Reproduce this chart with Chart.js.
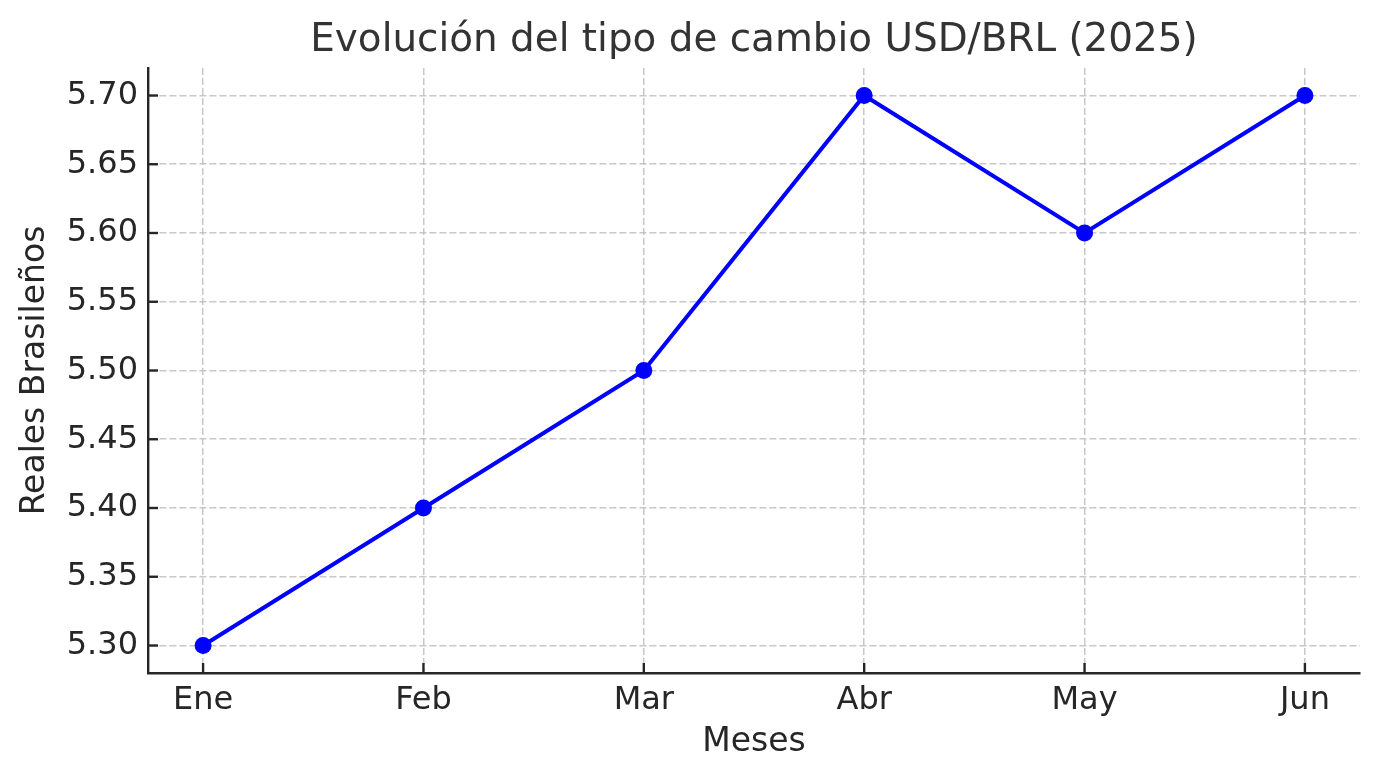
<!DOCTYPE html>
<html>
<head>
<meta charset="utf-8">
<script src="https://cdn.jsdelivr.net/npm/chart.js@4"></script>
<style>
html,body{margin:0;padding:0;background:#fff;}
#wrap{width:1380px;height:780px;position:relative;}
</style>
</head>
<body>
<div id="wrap"><canvas id="c"></canvas></div>
<script>
const months = ["Ene", "Feb", "Mar", "Abr", "May", "Jun"];
const rates = [5.30, 5.40, 5.50, 5.70, 5.60, 5.70];
const yTicks = [5.30, 5.35, 5.40, 5.45, 5.50, 5.55, 5.60, 5.65, 5.70];
const titleText = 'Evolución del tipo de cambio USD/BRL (2025)';

const FONT = "'DejaVu Sans', sans-serif";
const TXT = '#262626';
const points = months.map((m, i) => ({x: i, y: rates[i]}));

const innerTicks = {
  id: 'innerTicks',
  afterDraw(chart) {
    const ctx = chart.ctx;
    const xs = chart.scales.x, ys = chart.scales.y;
    const a = chart.chartArea;
    ctx.save();
    ctx.strokeStyle = TXT;
    ctx.lineWidth = 2.4;
    xs.ticks.forEach(t => {
      const px = xs.getPixelForValue(t.value);
      ctx.beginPath(); ctx.moveTo(px, a.bottom); ctx.lineTo(px, a.bottom - 10); ctx.stroke();
    });
    ys.ticks.forEach(t => {
      const py = ys.getPixelForValue(t.value);
      ctx.beginPath(); ctx.moveTo(a.left, py); ctx.lineTo(a.left + 10, py); ctx.stroke();
    });
    // title centred over the plot area
    ctx.fillStyle = '#333333';
    ctx.font = "38.9px 'DejaVu Sans', sans-serif";
    ctx.textAlign = 'center';
    ctx.textBaseline = 'middle';
    ctx.fillText(titleText, (a.left + a.right) / 2, 41);
    ctx.restore();
  }
};

new Chart(document.getElementById('c'), {
  type: 'line',
  data: {
    datasets: [{
      data: points,
      borderColor: '#0000ff',
      backgroundColor: '#0000ff',
      borderWidth: 4,
      pointRadius: 8.5,
      pointHoverRadius: 8.5,
      pointBorderWidth: 0,
      tension: 0,
      fill: false
    }]
  },
  options: {
    responsive: true,
    maintainAspectRatio: false,
    devicePixelRatio: 1,
    animation: false,
    events: [],
    layout: {padding: {left: 0, right: 20, top: 68, bottom: 0}},
    plugins: {
      legend: {display: false},
      tooltip: {enabled: false},
      title: {display: false}
    },
    scales: {
      x: {
        type: 'linear',
        min: -0.25,
        max: 5.25,
        afterFit(s) { s.height = 107; },
        ticks: {
          stepSize: 1,
          includeBounds: false,
          autoSkip: false,
          maxRotation: 0,
          padding: 8,
          color: TXT,
          font: {family: FONT, size: 32},
          callback: (v) => months[v] !== undefined ? months[v] : ''
        },
        grid: {
          drawTicks: false,
          color: 'rgba(190,190,190,0.85)',
          lineWidth: 1.5
        },
        border: {display: true, color: TXT, width: 2.4, dash: [7, 3]},
        title: {
          display: true,
          text: 'Meses',
          color: TXT,
          font: {family: FONT, size: 33, lineHeight: 1.2},
          padding: {top: 0, bottom: 18}
        }
      },
      y: {
        type: 'linear',
        min: 5.28,
        max: 5.72,
        afterFit(s) { s.width = 148; },
        afterBuildTicks(s) { s.ticks = yTicks.map(v => ({value: v})); },
        ticks: {
          stepSize: 0.05,
          includeBounds: false,
          padding: 10,
          color: TXT,
          font: {family: FONT, size: 32},
          callback: (v) => Number(v).toFixed(2)
        },
        grid: {
          drawTicks: false,
          color: 'rgba(190,190,190,0.85)',
          lineWidth: 1.5
        },
        border: {display: true, color: TXT, width: 2.4, dash: [7, 3]},
        title: {
          display: true,
          text: 'Reales Brasileños',
          color: TXT,
          font: {family: FONT, size: 33, lineHeight: 1.2},
          padding: {top: 16, bottom: 0}
        }
      }
    }
  },
  plugins: [innerTicks]
});
</script>
</body>
</html>
